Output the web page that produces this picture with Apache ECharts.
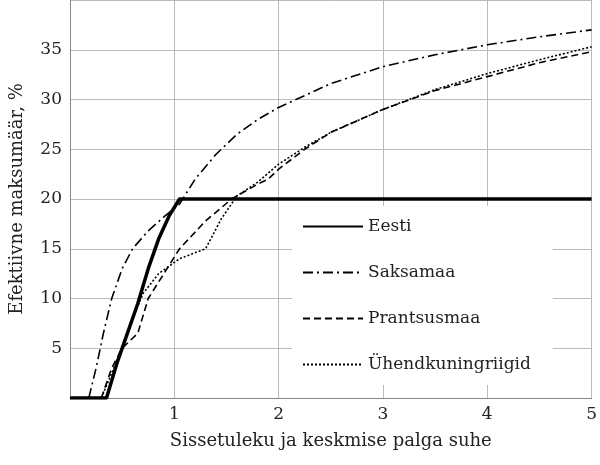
<!DOCTYPE html>
<html><head><meta charset="utf-8">
<script src="https://cdn.jsdelivr.net/npm/echarts@6/dist/echarts.min.js"></script>
<style>html,body{margin:0;background:#fff}#c{width:600px;height:465px}</style>
</head><body><div id="c"></div>
<script>
// andmed (x = sissetuleku ja keskmise palga suhe, y = efektiivne maksumäär %)
var eesti = [[0,0],[0.35,0],[0.45,3.5],[0.55,6.5],[0.65,9.5],[0.75,13],[0.85,16],[0.95,18.3],[1.05,20],[5,20]];
var saksamaa = [[0.18,0],[0.25,3],[0.32,6.5],[0.4,10],[0.5,13],[0.6,15],[0.75,16.8],[0.9,18.2],[1.05,19.5],[1.2,22],[1.4,24.5],[1.6,26.5],[1.8,28],[2,29.2],[2.5,31.6],[3,33.3],[3.5,34.5],[4,35.5],[4.5,36.3],[5,37]];
var prantsusmaa = [[0.3,0],[0.4,3],[0.5,5],[0.65,6.5],[0.75,10],[0.9,12.5],[1.05,15],[1.3,17.8],[1.55,20],[1.8,21.5],[1.9,22],[2,23],[2.25,25],[2.5,26.7],[3,29],[3.5,30.9],[4,32.3],[4.5,33.7],[5,34.8]];
var uk = [[0.3,0],[0.4,2.5],[0.5,5],[0.6,8],[0.7,10.5],[0.85,12.5],[1.05,14],[1.3,15],[1.45,18],[1.6,20.3],[1.8,21.7],[2,23.5],[2.25,25.2],[2.5,26.7],[3,29],[3.5,31],[4,32.6],[4.5,34],[5,35.3]];
var nimed = ['Eesti','Saksamaa','Prantsusmaa','Ühendkuningriigid'];

var font = 'DejaVu Serif';
function ser(name, data, w, type) {
  return {name:name, type:'line', data:data, symbol:'none', smooth:false,
    lineStyle:{color:'#000', width:w, type:type}, itemStyle:{color:'#000'}};
}
var chart = echarts.init(document.getElementById('c'));
chart.setOption({
  animation:false,
  textStyle:{fontFamily:font},
  grid:{left:70, right:4, top:0, bottom:67},
  xAxis:{type:'value', min:0, max:5, interval:1,
    name:'Sissetuleku ja keskmise palga suhe', nameLocation:'middle', nameGap:34,
    nameTextStyle:{fontSize:18, color:'#222', fontFamily:font},
    axisLine:{lineStyle:{color:'#888'}}, axisTick:{show:false},
    axisLabel:{fontSize:17, color:'#222', fontFamily:font, formatter:function(v){return v===0?'':v;}},
    splitLine:{show:true, lineStyle:{color:'#bbb'}}},
  yAxis:{type:'value', min:0, max:40, interval:5,
    name:'Efektiivne maksumäär, %', nameLocation:'middle', nameGap:44,
    nameTextStyle:{fontSize:18, color:'#222', fontFamily:font},
    axisLine:{show:true, lineStyle:{color:'#888'}}, axisTick:{show:false},
    axisLabel:{fontSize:17, color:'#222', fontFamily:font, formatter:function(v){return (v===0||v===40)?'':v;}},
    splitLine:{show:true, lineStyle:{color:'#bbb'}}},
  legend:{orient:'vertical', left:292, top:206, itemGap:29, itemWidth:60, itemHeight:14,
    padding:[12,22,12,10], backgroundColor:'#fff', data:nimed,
    itemStyle:{opacity:0},
    textStyle:{fontSize:17, color:'#222', fontFamily:font}},
  series:[
    ser(nimed[0], eesti, 3.5, 'solid'),
    ser(nimed[1], saksamaa, 1.6, [10,4,2,4]),
    ser(nimed[2], prantsusmaa, 1.6, [7,4]),
    ser(nimed[3], uk, 1.6, [2,2])
  ]
});
</script></body></html>
